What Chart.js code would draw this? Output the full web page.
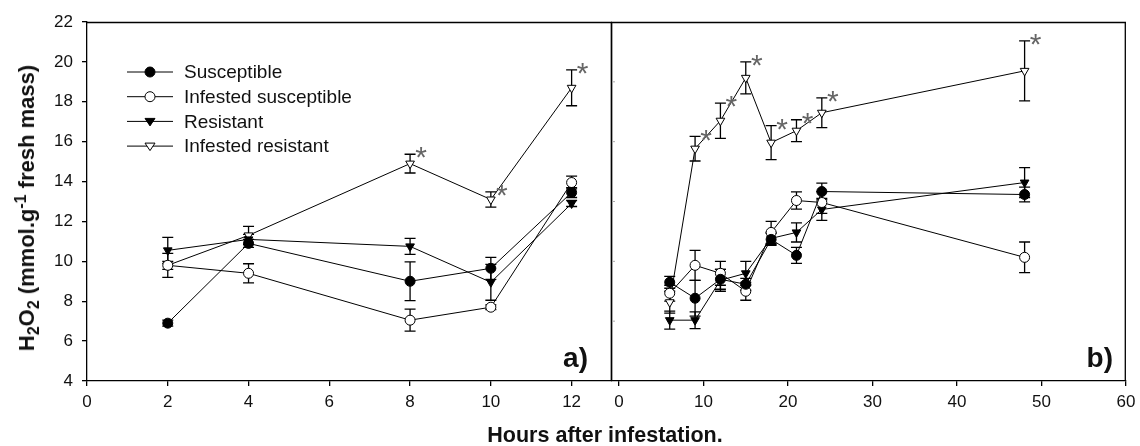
<!DOCTYPE html>
<html>
<head>
<meta charset="utf-8">
<script src="https://cdn.jsdelivr.net/npm/chart.js@4.4.0/dist/chart.umd.min.js"></script>
<style>
  html, body { margin: 0; padding: 0; background: #fff; }
  #wrap { position: relative; width: 1140px; height: 446px; font-family: "Liberation Sans", Arial, sans-serif; color: #111; }
  #left { position: absolute; left: 0; top: 0; }
  #right { position: absolute; left: 611px; top: 0; }
  #ytitle { position: absolute; left: 27px; top: 208px; transform: translate(-50%, -50%) rotate(-90deg);
            white-space: nowrap; font-weight: bold; font-size: 22px; }
  #ytitle sub, #ytitle sup { font-size: 16px; line-height: 0; }
  #xtitle { position: absolute; left: 605px; top: 435px; transform: translate(-50%, -50%);
            white-space: nowrap; font-weight: bold; font-size: 21.5px; }
</style>
</head>
<body>
<div id="wrap">
  <canvas id="left" width="612" height="446"></canvas>
  <canvas id="right" width="529" height="446"></canvas>
  <div id="ytitle">H<sub>2</sub>O<sub>2</sub> (mmol.g<sup>-1</sup> fresh mass)</div>
  <div id="xtitle">Hours after infestation.</div>
</div>
<script>
// panel a) hours 2-12
const hoursA = [2, 4, 8, 10, 12];
const suscA = [6.9, 10.9, 9.0, 9.65, 13.45];
const suscAErr = [0.15, 0.2, 0.97, 0.55, 0.25];
const infSuscA = [9.8, 9.4, 7.05, 7.7, 13.95];
const infSuscAErr = [0.2, 0.48, 0.55, 0.12, 0.32];
const resA = [10.55, 11.1, 10.75, 8.95, 12.9];
const resAErr = [0.65, 0.25, 0.4, 0.9, 0.15];
const infResA = [9.8, 11.3, 14.9, 13.1, 18.7];
const infResAErr = [0.6, 0.45, 0.47, 0.38, 0.9];
const starA = [false, false, true, true, true];

// panel b) hours 6-48
const hoursB = [6, 9, 12, 15, 18, 21, 24, 48];
const suscB = [8.95, 8.15, 9.1, 8.85, 11.1, 10.3, 13.5, 13.35];
const suscBErr = [0.3, 0.9, 0.5, 0.3, 0.3, 0.4, 0.42, 0.37];
const infSuscB = [8.4, 9.8, 9.4, 8.5, 11.45, 13.05, 12.95, 10.2];
const infSuscBErr = [0.4, 0.75, 0.6, 0.45, 0.55, 0.43, 0.55, 0.77];
const resB = [7.05, 7.05, 9.05, 9.4, 11.15, 11.45, 12.6, 13.95];
const resBErr = [0.45, 0.42, 0.55, 0.6, 0.3, 0.48, 0.55, 0.75];
const infResB = [7.95, 15.65, 17.05, 19.2, 15.95, 16.55, 17.45, 19.55];
const infResBErr = [0.55, 0.62, 0.88, 0.8, 0.85, 0.55, 0.75, 1.5];
const starB = [false, true, true, true, true, true, true, true];

const yTicks = [4, 6, 8, 10, 12, 14, 16, 18, 20, 22];
const xTicksA = [0, 2, 4, 6, 8, 10, 12];
const xTicksB = [0, 10, 20, 30, 40, 50, 60];

const FONT = '"Liberation Sans", Arial, sans-serif';
const seriesStyle = [
  { label: 'Susceptible', style: 'circle', fill: '#000' },
  { label: 'Infested susceptible', style: 'circle', fill: '#fff' },
  { label: 'Resistant', style: 'triangle', fill: '#000' },
  { label: 'Infested resistant', style: 'triangle', fill: '#fff' }
];

function makeDatasets(xs, series, errs) {
  return series.map((vals, k) => ({
    label: seriesStyle[k].label,
    data: vals.map((v, i) => ({ x: xs[i], y: v })),
    errors: errs[k],
    borderColor: '#000',
    borderWidth: 1,
    pointStyle: seriesStyle[k].style,
    pointRotation: seriesStyle[k].style === 'triangle' ? 180 : 0,
    pointRadius: 5,
    pointBackgroundColor: seriesStyle[k].fill,
    pointBorderColor: '#000',
    pointBorderWidth: 1,
    tension: 0,
    fill: false
  }));
}

function drawMarker(ctx, style, fill, x, y, r) {
  ctx.beginPath();
  if (style === 'circle') {
    ctx.arc(x, y, r, 0, Math.PI * 2);
  } else {
    ctx.moveTo(x - r, y - r * 0.6);
    ctx.lineTo(x + r, y - r * 0.6);
    ctx.lineTo(x, y + r * 0.9);
    ctx.closePath();
  }
  ctx.fillStyle = fill;
  ctx.fill();
  ctx.strokeStyle = '#000';
  ctx.lineWidth = 1;
  ctx.stroke();
}

// error bars under the markers
const errorBars = {
  id: 'errorBars',
  beforeDatasetsDraw(chart) {
    const ctx = chart.ctx;
    const y = chart.scales.y;
    ctx.save();
    ctx.strokeStyle = '#000';
    ctx.lineWidth = 1.3;
    chart.data.datasets.forEach((ds, k) => {
      const meta = chart.getDatasetMeta(k);
      meta.data.forEach((pt, i) => {
        const v = ds.data[i].y, e = ds.errors[i];
        const top = y.getPixelForValue(v + e), bot = y.getPixelForValue(v - e);
        ctx.beginPath();
        ctx.moveTo(pt.x, top); ctx.lineTo(pt.x, bot);
        ctx.moveTo(pt.x - 5.5, top); ctx.lineTo(pt.x + 5.5, top);
        ctx.moveTo(pt.x - 5.5, bot); ctx.lineTo(pt.x + 5.5, bot);
        ctx.stroke();
      });
    });
    ctx.restore();
  }
};

// asterisks on infested resistant
const stars = {
  id: 'stars',
  afterDatasetsDraw(chart, args, opts) {
    const ctx = chart.ctx;
    const y = chart.scales.y;
    const ds = chart.data.datasets[3];
    const meta = chart.getDatasetMeta(3);
    ctx.save();
    ctx.fillStyle = '#666';
    ctx.font = '30px ' + FONT;
    ctx.textAlign = 'center';
    ctx.textBaseline = 'middle';
    opts.marks.forEach((on, i) => {
      if (!on) return;
      const top = y.getPixelForValue(ds.data[i].y + ds.errors[i]);
      ctx.fillText('*', meta.data[i].x + 11, top + 5);
    });
    ctx.restore();
  }
};

// frame lines, panel letter, legend
const frame = {
  id: 'frame',
  afterDraw(chart, args, opts) {
    const ctx = chart.ctx;
    const a = chart.chartArea;
    ctx.save();
    ctx.strokeStyle = '#000';
    ctx.lineWidth = 1.3;
    ctx.beginPath();
    ctx.moveTo(a.left, a.top + 0.5); ctx.lineTo(a.right, a.top + 0.5);
    ctx.moveTo(a.right - 0.7, a.top); ctx.lineTo(a.right - 0.7, a.bottom);
    if (opts.leftLine) { ctx.moveTo(a.left + 0.7, a.top); ctx.lineTo(a.left + 0.7, a.bottom); }
    ctx.stroke();
    if (opts.innerTicks) {
      ctx.strokeStyle = '#aaa';
      ctx.lineWidth = 1;
      ctx.beginPath();
      [7, 10, 13, 16, 19].forEach(v => {
        const py = chart.scales.y.getPixelForValue(v);
        ctx.moveTo(a.left + 1, py); ctx.lineTo(a.left + 4, py);
      });
      ctx.stroke();
    }
    ctx.fillStyle = '#111';
    ctx.font = 'bold 28px ' + FONT;
    ctx.textAlign = 'right';
    ctx.textBaseline = 'alphabetic';
    ctx.fillText(opts.letter, a.right - opts.letterRight, a.bottom - 14);
    if (opts.legend) {
      ctx.font = '19px ' + FONT;
      ctx.textAlign = 'left';
      ctx.textBaseline = 'middle';
      seriesStyle.forEach((s, k) => {
        const ly = 72 + k * 24.7;
        ctx.strokeStyle = '#000';
        ctx.lineWidth = 1;
        ctx.beginPath();
        ctx.moveTo(127, ly); ctx.lineTo(173, ly);
        ctx.stroke();
        drawMarker(ctx, s.style, s.fill, 150, ly, 5);
        ctx.fillStyle = '#111';
        ctx.fillText(s.label, 184, ly + 1);
      });
    }
    ctx.restore();
  }
};

function axisX(min, max, ticks) {
  return {
    type: 'linear', min: min, max: max,
    afterBuildTicks: s => { s.ticks = ticks.map(v => ({ value: v })); },
    afterFit: s => { s.height = 40; s.paddingLeft = 0; s.paddingRight = 0; },
    grid: { drawOnChartArea: false, drawTicks: true, tickLength: 5, color: '#000', lineWidth: 1.3 },
    border: { display: true, color: '#000', width: 1.3 },
    ticks: { color: '#111', font: { family: FONT, size: 17 }, padding: 6, maxRotation: 0 }
  };
}

function axisY(show) {
  return {
    type: 'linear', min: 4, max: 22, display: show,
    afterBuildTicks: s => { s.ticks = yTicks.map(v => ({ value: v })); },
    afterFit: s => { s.width = show ? 87 : 0; },
    grid: { drawOnChartArea: false, drawTicks: true, tickLength: 5, color: '#000', lineWidth: 1.3 },
    border: { display: true, color: '#000', width: 1.3 },
    ticks: { color: '#111', font: { family: FONT, size: 17 }, padding: 9 }
  };
}

const leftChart = new Chart(document.getElementById('left'), {
  type: 'line',
  data: { datasets: makeDatasets(hoursA, [suscA, infSuscA, resA, infResA], [suscAErr, infSuscAErr, resAErr, infResAErr]) },
  options: {
    responsive: false, animation: false,
    layout: { autoPadding: false, padding: { top: 22, right: 0, bottom: 25, left: 0 } },
    scales: { x: axisX(0, 13, xTicksA), y: axisY(true) },
    plugins: {
      legend: { display: false }, tooltip: { enabled: false },
      stars: { marks: starA },
      frame: { letter: 'a)', letterRight: 24, legend: true, innerTicks: false, leftLine: false }
    }
  },
  plugins: [errorBars, stars, frame]
});

const rightChart = new Chart(document.getElementById('right'), {
  type: 'line',
  data: { datasets: makeDatasets(hoursB, [suscB, infSuscB, resB, infResB], [suscBErr, infSuscBErr, resBErr, infResBErr]) },
  options: {
    responsive: false, animation: false,
    layout: { autoPadding: false, padding: { top: 22, right: 14, bottom: 25, left: 0 } },
    scales: { x: axisX(-0.95, 60, xTicksB), y: axisY(false) },
    plugins: {
      legend: { display: false }, tooltip: { enabled: false },
      stars: { marks: starB },
      frame: { letter: 'b)', letterRight: 13, legend: false, innerTicks: true, leftLine: true }
    }
  },
  plugins: [errorBars, stars, frame]
});
</script>
</body>
</html>
